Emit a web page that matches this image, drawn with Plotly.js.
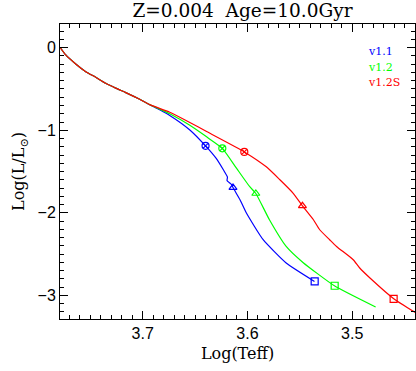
<!DOCTYPE html>
<html>
<head>
<meta charset="utf-8">
<script src="https://cdn.plot.ly/plotly-3.0.1.min.js"></script>
<style>
  html, body { margin: 0; padding: 0; background: #fff; }
  #chart { width: 416px; height: 371px; }
</style>
</head>
<body>
<div id="chart"></div>
<script>
// shared upper part of the track (all three versions agree here)
const commonTeff = [3.779, 3.7735, 3.764, 3.7544, 3.7449, 3.7353, 3.7258, 3.7162, 3.7029, 3.6933];
const commonLum  = [0.005, -0.088, -0.197, -0.290, -0.358, -0.431, -0.490, -0.544, -0.625, -0.690];

// v1.1
const teff11 = [3.6838, 3.6742, 3.655, 3.640, 3.630, 3.623, 3.6191, 3.6195, 3.6175, 3.6150, 3.6138, 3.607, 3.601, 3.585, 3.563, 3.536];
const lum11  = [-0.752, -0.820, -0.996, -1.189, -1.338, -1.479, -1.568, -1.609, -1.633, -1.661, -1.694, -1.844, -2.003, -2.326, -2.608, -2.831];
// v1.2
const teff12 = [3.6742, 3.655, 3.639, 3.624, 3.6105, 3.598, 3.592, 3.579, 3.563, 3.547, 3.517, 3.4776];
const lum12  = [-0.800, -0.940, -1.080, -1.219, -1.459, -1.681, -1.766, -2.084, -2.407, -2.601, -2.883, -3.140];
// v1.2S
const teff12s = [3.6742, 3.655, 3.639, 3.603, 3.582, 3.569, 3.5565, 3.5475, 3.537, 3.531, 3.5215, 3.515, 3.499, 3.493, 3.483, 3.460, 3.439];
const lum12s  = [-0.781, -0.905, -1.016, -1.262, -1.443, -1.600, -1.761, -1.915, -2.084, -2.205, -2.326, -2.407, -2.568, -2.665, -2.789, -3.043, -3.213];

// marked points: circle, triangle, square
const mark11  = { teff: [3.640, 3.6138, 3.5358], lum: [-1.189, -1.694, -2.831] };
const mark12  = { teff: [3.624, 3.592, 3.5167], lum: [-1.219, -1.766, -2.883] };
const mark12s = { teff: [3.603, 3.5475, 3.4604], lum: [-1.262, -1.915, -3.043] };
const markSymbols = ['circle-x-open', 'triangle-up-open', 'square-open'];

const names  = ['v1.1', 'v1.2', 'v1.2S'];
const colors = ['#0000ff', '#00ff00', '#ff0000'];

const tracks = [[teff11, lum11], [teff12, lum12], [teff12s, lum12s]];
const marks = [mark11, mark12, mark12s];

const traces = [];
tracks.forEach(function (t, i) {
    traces.push({
        x: commonTeff.concat(t[0]),
        y: commonLum.concat(t[1]),
        mode: 'lines',
        line: { color: colors[i], width: 1.2, shape: 'spline', smoothing: 0.5 },
        hoverinfo: 'skip'
    });
});
marks.forEach(function (m, i) {
    traces.push({
        x: m.teff,
        y: m.lum,
        mode: 'markers',
        marker: { symbol: markSymbols, size: 7, color: colors[i], line: { color: colors[i], width: 1.2 } },
        hoverinfo: 'skip'
    });
});

const axisCommon = {
    showgrid: false,
    zeroline: false,
    showline: true,
    linecolor: '#000',
    linewidth: 1,
    mirror: 'ticks',
    ticks: 'inside',
    ticklen: 8,
    tickwidth: 1,
    tickcolor: '#000',
    tickfont: { family: 'Liberation Sans', size: 16, color: '#000' }
};

const annotations = names.map(function (n, i) {
    return {
        text: n, xref: 'paper', yref: 'paper',
        x: 0.862, y: [0.908, 0.854, 0.803][i],
        xanchor: 'left', yanchor: 'middle', showarrow: false,
        font: { family: 'DejaVu Serif', size: 11, color: colors[i] }
    };
});

const layout = {
    width: 416,
    height: 371,
    margin: { l: 60, r: 1, t: 24, b: 52 },
    paper_bgcolor: '#fff',
    plot_bgcolor: '#fff',
    showlegend: false,
    title: {
        text: 'Z=0.004  Age=10.0Gyr',
        font: { family: 'DejaVu Serif', size: 18.5, color: '#000' },
        xref: 'container', x: 0.583, xanchor: 'center',
        yref: 'container', y: 0.972, yanchor: 'middle'
    },
    xaxis: Object.assign({}, axisCommon, {
        range: [3.779, 3.44],
        tickvals: [3.7, 3.6, 3.5],
        ticktext: ['3.7', '3.6', '3.5'],
        minor: { dtick: 0.01, ticks: 'inside', ticklen: 4, tickcolor: '#000' },
        title: { text: 'Log(Teff)', font: { family: 'DejaVu Serif', size: 16, color: '#000' }, standoff: 6 }
    }),
    yaxis: Object.assign({}, axisCommon, {
        range: [-3.286, 0.287],
        tickvals: [0, -1, -2, -3],
        minor: { dtick: 0.1, ticks: 'inside', ticklen: 4, tickcolor: '#000' },
        title: { text: 'Log(L/L<sub>⊙</sub>)', font: { family: 'DejaVu Serif', size: 16, color: '#000' }, standoff: 8 }
    }),
    annotations: annotations
};

Plotly.newPlot('chart', traces, layout, { staticPlot: true });
</script>
</body>
</html>
